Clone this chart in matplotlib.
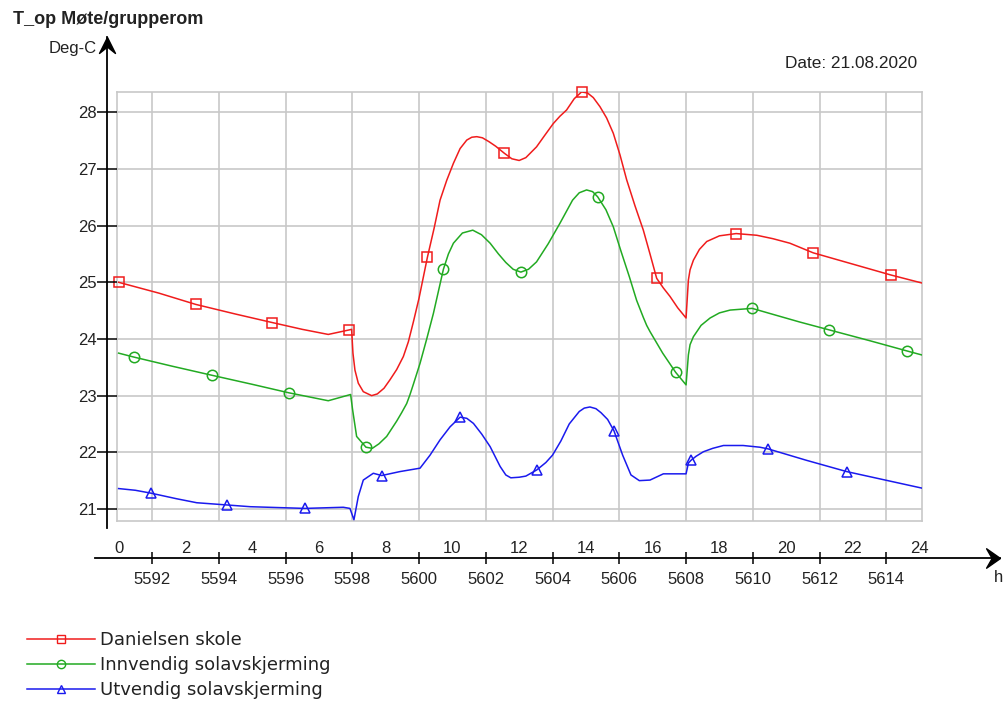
import matplotlib
matplotlib.use("Agg")
import matplotlib.pyplot as plt
from matplotlib.lines import Line2D

W, H = 1004, 702

# Simulation hour (hour of year) and operative temperature, 21.08.2020
red_h = [5591.0, 5592.2, 5593.31, 5594.5, 5595.6, 5596.5, 5597.28, 5597.91, 5597.98,
         5598.02, 5598.08, 5598.18, 5598.33, 5598.58, 5598.75, 5598.95, 5599.13, 5599.33,
         5599.53, 5599.68, 5599.83, 5600.0, 5600.25, 5600.45, 5600.63, 5600.83, 5601.03,
         5601.23, 5601.43, 5601.58, 5601.73, 5601.9, 5602.1, 5602.3, 5602.55, 5602.78,
         5603.0, 5603.2, 5603.52, 5603.75, 5604.02, 5604.22, 5604.42, 5604.65, 5604.87,
         5605.05, 5605.22, 5605.42, 5605.62, 5605.82, 5606.02, 5606.22, 5606.47, 5606.72,
         5606.92, 5607.12, 5607.32, 5607.52, 5607.75, 5608.0, 5608.07, 5608.12, 5608.22,
         5608.4, 5608.62, 5609.0, 5609.5, 5610.12, 5610.6, 5611.11, 5611.81, 5613.0,
         5614.13, 5615.05]
red_t = [25.0, 24.81, 24.61, 24.44, 24.29, 24.17, 24.08, 24.16, 24.17,
         23.75, 23.45, 23.22, 23.07, 23.0, 23.03, 23.13, 23.28, 23.46,
         23.69, 23.95, 24.3, 24.72, 25.44, 25.95, 26.45, 26.8, 27.1,
         27.36, 27.51, 27.56, 27.57, 27.55, 27.48, 27.4, 27.28, 27.18,
         27.15, 27.2, 27.39, 27.58, 27.8, 27.93, 28.04, 28.24, 28.36,
         28.34, 28.26, 28.1, 27.9, 27.63, 27.25, 26.81, 26.35, 25.92,
         25.5, 25.07, 24.9, 24.75, 24.55, 24.37, 25.04, 25.22, 25.39,
         25.58, 25.72, 25.82, 25.86, 25.83, 25.77, 25.69, 25.52, 25.32,
         25.13, 24.99]
red_marks = [5591.0, 5593.31, 5595.6, 5597.91, 5600.25, 5602.55, 5604.87, 5607.12,
             5609.5, 5611.81, 5614.13]

green_h = [5591.0, 5591.46, 5592.6, 5593.79, 5595.0, 5596.1, 5597.28, 5597.95, 5598.01,
           5598.13, 5598.41, 5598.6, 5598.8, 5599.03, 5599.33, 5599.48, 5599.63, 5599.73,
           5599.83, 5600.03, 5600.23, 5600.43, 5600.73, 5600.88, 5601.03, 5601.3, 5601.61,
           5601.87, 5602.13, 5602.38, 5602.6, 5602.82, 5603.05, 5603.28, 5603.52, 5603.87,
           5604.22, 5604.6, 5604.8, 5605.02, 5605.2, 5605.35, 5605.6, 5605.82, 5606.05,
           5606.3, 5606.52, 5606.72, 5606.82, 5606.92, 5607.3, 5607.69, 5608.0, 5608.07,
           5608.12, 5608.22, 5608.45, 5608.72, 5609.0, 5609.32, 5609.98, 5610.51, 5611.4,
           5612.29, 5613.5, 5614.61, 5615.05]
green_t = [23.75, 23.68, 23.52, 23.36, 23.2, 23.05, 22.91, 23.02, 22.75,
           22.28, 22.09, 22.07, 22.15, 22.28, 22.55, 22.7, 22.86, 23.02,
           23.2, 23.57, 24.0, 24.45, 25.23, 25.5, 25.69, 25.87, 25.92,
           25.84, 25.69, 25.5, 25.35, 25.23, 25.18, 25.23, 25.36, 25.68,
           26.04, 26.45, 26.58, 26.63, 26.6, 26.51, 26.28, 25.98, 25.55,
           25.1, 24.68, 24.38, 24.24, 24.13, 23.75, 23.41, 23.19, 23.72,
           23.9, 24.04, 24.24, 24.37, 24.46, 24.51, 24.54, 24.45, 24.3,
           24.16, 23.97, 23.79, 23.72]
green_marks = [5591.46, 5593.79, 5596.1, 5598.41, 5600.73, 5603.05, 5605.35, 5607.69,
               5609.98, 5612.29, 5614.61]

blue_h = [5591.0, 5591.5, 5591.96, 5592.74, 5593.34, 5594.26, 5594.94, 5596.58, 5597.73,
          5597.93, 5598.05, 5598.18, 5598.33, 5598.63, 5598.88, 5599.43, 5600.03, 5600.33,
          5600.63, 5600.93, 5601.23, 5601.43, 5601.63, 5601.88, 5602.13, 5602.43, 5602.6,
          5602.75, 5603.0, 5603.2, 5603.53, 5603.8, 5604.0, 5604.25, 5604.5, 5604.8,
          5604.95, 5605.12, 5605.3, 5605.45, 5605.65, 5605.84, 5606.1, 5606.35, 5606.6,
          5606.92, 5607.32, 5608.0, 5608.07, 5608.15, 5608.3, 5608.52, 5608.8, 5609.12,
          5609.71, 5610.21, 5610.46, 5611.6, 5612.81, 5615.05]
blue_t = [21.36, 21.33, 21.28, 21.18, 21.11, 21.07, 21.04, 21.01, 21.03,
          21.01, 20.81, 21.22, 21.51, 21.63, 21.59, 21.66, 21.72, 21.95,
          22.22, 22.45, 22.62, 22.6, 22.51, 22.32, 22.1, 21.75, 21.6,
          21.55, 21.56, 21.58, 21.69, 21.82, 21.95, 22.2, 22.5, 22.72,
          22.78, 22.8, 22.77, 22.7, 22.58, 22.38, 21.95, 21.6, 21.5,
          21.51, 21.62, 21.62, 21.81, 21.86, 21.93, 22.01, 22.07, 22.12,
          22.12, 22.09, 22.06, 21.86, 21.66, 21.37]
blue_marks = [5591.96, 5594.26, 5596.58, 5598.88, 5601.23, 5603.53, 5605.84, 5608.15,
              5610.46, 5612.81]

series = [
    ("Danielsen skole", red_h, red_t, red_marks, "#f01c1c", "s"),
    ("Innvendig solavskjerming", green_h, green_t, green_marks, "#22aa22", "o"),
    ("Utvendig solavskjerming", blue_h, blue_t, blue_marks, "#1a1aee", "^"),
]

y_ticks = list(range(21, 29))
hour_ticks = list(range(5592, 5615, 2))
day_ticks = list(range(5591, 5616, 2))
day_labels = [str(h - 5591) for h in day_ticks]

TXT = "#222222"
GRID = "#c8c8c8"

plt.rcParams["font.family"] = ["Liberation Sans", "DejaVu Sans"]
plt.rcParams["font.size"] = 12


def fx(px):
    return px / W


def fy(py):
    return 1 - py / H


fig = plt.figure(figsize=(W / 100, H / 100), dpi=100)

# plot area with grid
ax = fig.add_axes([fx(117.3), fy(520.7), fx(921.7) - fx(117.3), fy(92.3) - fy(520.7)])
ax.set_xlim(5590.96, 5615.06)
ax.set_ylim(20.793, 28.353)
ax.set_xticks(hour_ticks)
ax.set_yticks(y_ticks)
ax.grid(color=GRID, lw=1.2)
ax.tick_params(length=0, labelbottom=False, labelleft=False)
for sp in ax.spines.values():
    sp.set_color(GRID)
    sp.set_linewidth(1.2)

handles = []
for name, hx, ty, marks, col, mk in series:
    ax.plot(hx, ty, color=col, lw=1.1, zorder=3)
    idx = [hx.index(m) for m in marks]
    ax.plot([hx[i] for i in idx], [ty[i] for i in idx], ls="none", marker=mk,
            ms=7.5, mfc="none", mec=col, mew=1.1, clip_on=False, zorder=4)
    handles.append(Line2D([], [], color=col, lw=1.1, marker=mk, ms=6,
                          mfc="none", mec=col, mew=1.0, label=name))

# notched arrow heads for the axis lines
arrow_right = [(0, 0), (-1, 0.7), (-0.6, 0), (-1, -0.7), (0, 0)]
arrow_up = [(0, 0), (0.5, -1), (0, -0.6), (-0.5, -1), (0, 0)]

# x axis: hours below, time of day above
axx = fig.add_axes([fx(95), fy(558), fx(1000) - fx(95), 1e-6])
axx.set_xlim(5590.292, 5617.404)
axx.set_yticks([])
for s in ["top", "left", "right"]:
    axx.spines[s].set_visible(False)
axx.spines["bottom"].set_linewidth(1.3)
axx.set_xticks(hour_ticks)
axx.set_xticks(day_ticks, day_labels, minor=True)
axx.tick_params(which="major", direction="inout", length=9, width=1.1,
                bottom=True, top=False, labelbottom=True, labeltop=False,
                pad=5.5, labelsize=12, labelcolor=TXT)
axx.tick_params(which="minor", length=0, bottom=False, top=True,
                labelbottom=False, labeltop=True, pad=1.5, labelsize=12, labelcolor=TXT)
axx.plot([1], [0], marker=arrow_right, ms=20, color="k", transform=axx.transAxes,
         clip_on=False)

# y axis
axy = fig.add_axes([fx(107.5), fy(528), 1e-6, fy(37) - fy(528)])
axy.set_ylim(20.665, 29.329)
axy.set_xticks([])
for s in ["top", "bottom", "right"]:
    axy.spines[s].set_visible(False)
axy.spines["left"].set_linewidth(1.3)
axy.set_yticks(y_ticks)
axy.tick_params(direction="inout", length=14.4, width=1.1, pad=0.6,
                labelsize=12, labelcolor=TXT)
axy.plot([0], [1], marker=arrow_up, ms=23, color="k", transform=axy.transAxes,
         clip_on=False)

fig.text(fx(13), fy(20), "T_op Møte/grupperom", fontsize=13, fontweight="bold",
         color=TXT, va="center", ha="left")
fig.text(fx(97), fy(48), "Deg-C", fontsize=12, color=TXT, va="center", ha="right")
fig.text(fx(917), fy(63), "Date: 21.08.2020", fontsize=12.4, color=TXT,
         va="center", ha="right")
fig.text(fx(1003), fy(578), "h", fontsize=12, color=TXT, va="center", ha="right")

fig.legend(handles=handles, loc="upper left", bbox_to_anchor=(fx(27), fy(631)),
           frameon=False, borderpad=0, borderaxespad=0, handlelength=3.75,
           handletextpad=0.3, labelspacing=0.4,
           prop={"family": "DejaVu Sans", "size": 13}, labelcolor=TXT)

fig.savefig("out.png", dpi=100)
